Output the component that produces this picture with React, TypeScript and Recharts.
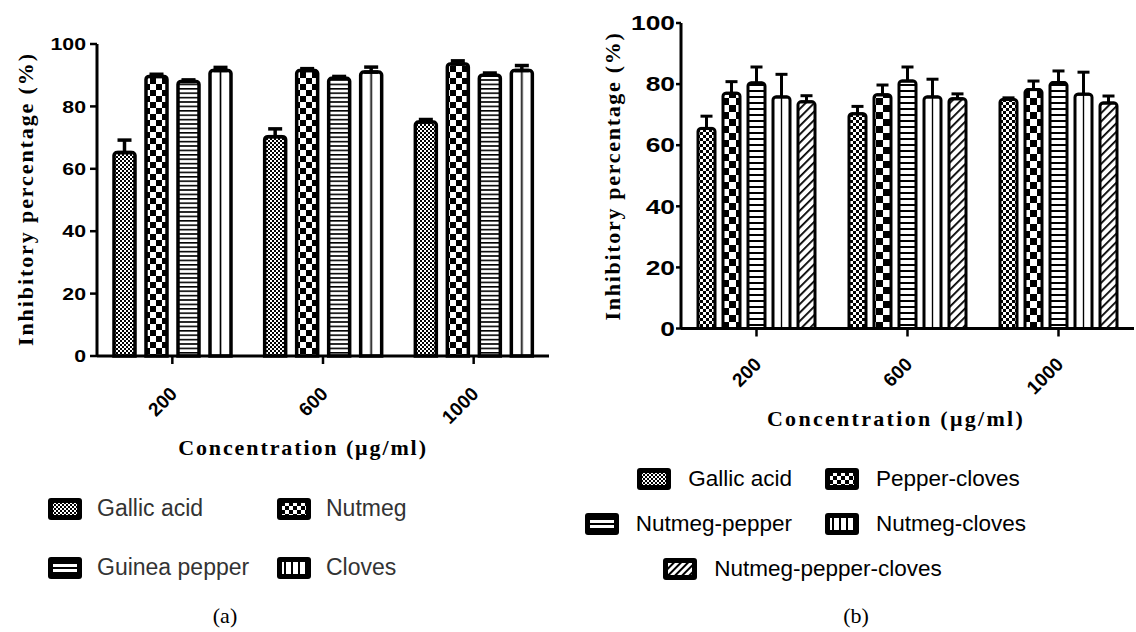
import { BarChart, Bar, XAxis, YAxis, ErrorBar, Legend } from 'recharts';

const CONCENTRATIONS = ['200', '600', '1000'];
const Y_TICKS = [0, 20, 40, 60, 80, 100];

// panel (a)
const SERIES_A = ['Gallic acid', 'Nutmeg', 'Guinea pepper', 'Cloves'];
const GALLIC_A = [65.2, 70.3, 75.0];
const GALLIC_A_ERR = [4.0, 2.5, 0.8];
const NUTMEG_A = [89.6, 91.5, 93.6];
const NUTMEG_A_ERR = [0.7, 0.6, 1.0];
const GUINEA_A = [88.0, 89.0, 90.0];
const GUINEA_A_ERR = [0.5, 0.6, 0.7];
const CLOVES_A = [91.5, 91.0, 91.5];
const CLOVES_A_ERR = [1.0, 1.6, 1.6];

// panel (b)
const SERIES_B = ['Gallic acid', 'Pepper-cloves', 'Nutmeg-pepper', 'Nutmeg-cloves', 'Nutmeg-pepper-cloves'];
const GALLIC_B = [65.5, 70.3, 75.0];
const GALLIC_B_ERR = [4.0, 2.4, 0.5];
const PEPPER_CLOVES_B = [77.0, 76.5, 78.2];
const PEPPER_CLOVES_B_ERR = [3.8, 3.2, 2.8];
const NUTMEG_PEPPER_B = [80.4, 81.0, 80.5];
const NUTMEG_PEPPER_B_ERR = [5.2, 4.6, 3.8];
const NUTMEG_CLOVES_B = [75.8, 75.8, 76.7];
const NUTMEG_CLOVES_B_ERR = [7.4, 5.8, 7.2];
const NPC_B = [74.2, 75.2, 73.8];
const NPC_B_ERR = [2.0, 1.6, 2.3];

const SANS = '"Liberation Sans", Arial, sans-serif';
const SERIF = '"Liberation Serif", "Times New Roman", serif';

function buildRows(values: number[][], errors: number[][]) {
  return CONCENTRATIONS.map((c, i) => {
    const row: any = { concentration: c };
    values.forEach((v, k) => {
      row['s' + k] = v[i];
      row['e' + k] = [0, errors[k][i]];
    });
    return row;
  });
}

const DATA_A = buildRows(
  [GALLIC_A, NUTMEG_A, GUINEA_A, CLOVES_A],
  [GALLIC_A_ERR, NUTMEG_A_ERR, GUINEA_A_ERR, CLOVES_A_ERR]
);
const DATA_B = buildRows(
  [GALLIC_B, PEPPER_CLOVES_B, NUTMEG_PEPPER_B, NUTMEG_CLOVES_B, NPC_B],
  [GALLIC_B_ERR, PEPPER_CLOVES_B_ERR, NUTMEG_PEPPER_B_ERR, NUTMEG_CLOVES_B_ERR, NPC_B_ERR]
);

const FILLS_A = ['fineA', 'checkA', 'hlineA', 'vline'];
const FILLS_B = ['fineB', 'checkB', 'hlineB', 'vline', 'diagB'];
const ICONS_A = ['iconFine', 'iconCheck', 'iconH', 'iconV'];
const ICONS_B = ['iconFine', 'iconCheck', 'iconH', 'iconV', 'iconDiag'];

function checker(id: string, size: number) {
  const h = size / 2;
  return (
    <pattern id={id} width={size} height={size} patternUnits="userSpaceOnUse">
      <rect width={size} height={size} fill="#fff" />
      <rect width={h} height={h} fill="#000" />
      <rect x={h} y={h} width={h} height={h} fill="#000" />
    </pattern>
  );
}

function hlines(id: string, gap: number, thick: number) {
  return (
    <pattern id={id} width={8} height={gap} patternUnits="userSpaceOnUse">
      <rect width={8} height={gap} fill="#fff" />
      <rect width={8} height={thick} fill="#000" />
    </pattern>
  );
}

function Patterns() {
  return (
    <svg width={0} height={0} style={{ position: 'absolute' }}>
      <defs>
        {checker('fineA', 4)}
        {checker('checkA', 12)}
        {hlines('hlineA', 4.4, 1.6)}
        {checker('fineB', 6)}
        {checker('checkB', 14)}
        {hlines('hlineB', 6, 2)}
        <pattern id="vline" width={1} height={1} patternUnits="objectBoundingBox" patternContentUnits="objectBoundingBox">
          <rect width={1} height={1} fill="#fff" />
          <rect x={0.46} width={0.08} height={1} fill="#000" />
        </pattern>
        <pattern id="diagB" width={6} height={6} patternUnits="userSpaceOnUse" patternTransform="rotate(45)">
          <rect width={6} height={6} fill="#fff" />
          <rect width={1.8} height={6} fill="#000" />
        </pattern>
        {checker('iconFine', 4)}
        {checker('iconCheck', 8)}
        <pattern id="iconH" width={8} height={5} patternUnits="userSpaceOnUse">
          <rect width={8} height={5} fill="#fff" />
          <rect width={8} height={2} fill="#000" />
        </pattern>
        <pattern id="iconV" width={7} height={8} patternUnits="userSpaceOnUse">
          <rect width={7} height={8} fill="#fff" />
          <rect width={2} height={8} fill="#000" />
        </pattern>
        <pattern id="iconDiag" width={5} height={5} patternUnits="userSpaceOnUse" patternTransform="rotate(45)">
          <rect width={5} height={5} fill="#fff" />
          <rect width={2} height={5} fill="#000" />
        </pattern>
      </defs>
    </svg>
  );
}

function LegendIcon({ fill }: { fill: string }) {
  return (
    <svg width={34} height={22} style={{ display: 'block', flex: 'none' }}>
      <rect x={0} y={0} width={34} height={22} rx={3} fill="#000" />
      <rect x={5} y={5} width={24} height={12} fill={`url(#${fill})`} />
    </svg>
  );
}

function LegendItem({ name, icon, color, gap, size }: { name: string; icon: string; color: string; gap: number; size: number }) {
  return (
    <div style={{ display: 'flex', alignItems: 'center', gap, fontFamily: SANS, fontSize: size, color, whiteSpace: 'nowrap' }}>
      <LegendIcon fill={icon} />
      <span>{name}</span>
    </div>
  );
}

const renderLegendA = () => (
  <div style={{ display: 'grid', gridTemplateColumns: '229px auto', rowGap: 32 }}>
    {SERIES_A.map((s, i) => (
      <LegendItem key={s} name={s} icon={ICONS_A[i]} color="#333" gap={15} size={23} />
    ))}
  </div>
);

const renderLegendB = () => (
  <div style={{ display: 'grid', gridTemplateColumns: '204px 220px', columnGap: 33, rowGap: 19 }}>
    {SERIES_B.map((s, i) => (
      <div
        key={s}
        style={{
          display: 'flex',
          justifyContent: i === 4 ? 'center' : i % 2 === 0 ? 'flex-end' : 'flex-start',
          gridColumn: i === 4 ? '1 / span 2' : undefined,
          paddingRight: i === 4 ? 28 : 0,
        }}
      >
        <LegendItem name={s} icon={ICONS_B[i]} color="#000" gap={17} size={22.5} />
      </div>
    ))}
  </div>
);

const XTick = ({ x, y, payload, fontSize, dy }: any) => {
  const px = x + 6;
  const py = y + dy;
  return (
    <text
      x={px}
      y={py}
      transform={`rotate(-45, ${px}, ${py})`}
      textAnchor="end"
      fontFamily={SANS}
      fontWeight="bold"
      fontSize={fontSize}
      fill="#000"
    >
      {payload.value}
    </text>
  );
};

const YTick = ({ x, y, payload, fontSize, sx }: any) => (
  <g transform={`translate(${x},${y})`}>
    <text
      transform={`scale(${sx},1)`}
      textAnchor="end"
      dy="0.36em"
      fontFamily={SANS}
      fontWeight="bold"
      fontSize={fontSize}
      fill="#000"
    >
      {payload.value}
    </text>
  </g>
);

const yTitle = (cx: number, cy: number, size: number, spacing: number) => () => (
  <text
    x={cx}
    y={cy}
    transform={`rotate(-90, ${cx}, ${cy})`}
    textAnchor="middle"
    dominantBaseline="central"
    fontFamily={SERIF}
    fontWeight="bold"
    fontSize={size}
    letterSpacing={spacing}
    fill="#000"
  >
    Inhibitory percentage (%)
  </text>
);

const xTitle = (cx: number, cy: number, size: number, spacing: number) => () => (
  <text
    x={cx}
    y={cy}
    textAnchor="middle"
    dominantBaseline="central"
    fontFamily={SERIF}
    fontWeight="bold"
    fontSize={size}
    letterSpacing={spacing}
    fill="#000"
  >
    Concentration (μg/ml)
  </text>
);

export default function App() {
  return (
    <div style={{ position: 'absolute', left: 0, top: 0, width: 1136, height: 632, background: '#fff', overflow: 'hidden' }}>
      <Patterns />

      <div style={{ position: 'absolute', left: 0, top: 0 }}>
        <BarChart
          width={560}
          height={632}
          data={DATA_A}
          margin={{ top: 44, right: 11, bottom: 236, left: 40 }}
          barSize={21}
          barGap={11}
        >
          <XAxis
            dataKey="concentration"
            height={40}
            interval={0}
            axisLine={{ stroke: '#000', strokeWidth: 3 }}
            tickLine={{ stroke: '#000', strokeWidth: 2.5 }}
            tickSize={8}
            tick={(p: any) => <XTick {...p} fontSize={19} dy={29} />}
            label={xTitle(303, 447, 22, 1.9)}
          />
          <YAxis
            width={57}
            domain={[0, 100]}
            ticks={Y_TICKS}
            interval={0}
            axisLine={{ stroke: '#000', strokeWidth: 3 }}
            tickLine={{ stroke: '#000', strokeWidth: 2.5 }}
            tickSize={7}
            tickMargin={4}
            tick={(p: any) => <YTick {...p} fontSize={17} sx={1.25} />}
            label={yTitle(25, 199, 22, 1.9)}
          />
          {SERIES_A.map((name, k) => (
            <Bar
              key={name}
              dataKey={'s' + k}
              name={name}
              fill={`url(#${FILLS_A[k]})`}
              stroke="#000"
              strokeWidth={3.5}
              radius={[3, 3, 0, 0]}
              isAnimationActive={false}
            >
              <ErrorBar dataKey={'e' + k} width={7} stroke="#000" strokeWidth={3.5} direction="y" />
            </Bar>
          ))}
          <Legend
            layout="vertical"
            align="center"
            verticalAlign="middle"
            content={renderLegendA}
            wrapperStyle={{ left: 48, top: 495, width: 420 }}
          />
        </BarChart>
      </div>

      <div style={{ position: 'absolute', left: 568, top: 0 }}>
        <BarChart
          width={568}
          height={632}
          data={DATA_B}
          margin={{ top: 23, right: 2, bottom: 263.5, left: 53 }}
          barSize={17}
          barGap={8}
        >
          <XAxis
            dataKey="concentration"
            height={40}
            interval={0}
            axisLine={{ stroke: '#000', strokeWidth: 3 }}
            tickLine={{ stroke: '#000', strokeWidth: 2.5 }}
            tickSize={8}
            tick={(p: any) => <XTick {...p} fontSize={19} dy={27} />}
            label={xTitle(896 - 568, 418, 22, 2.3)}
          />
          <YAxis
            width={60}
            domain={[0, 100]}
            ticks={Y_TICKS}
            interval={0}
            axisLine={{ stroke: '#000', strokeWidth: 3 }}
            tickLine={{ stroke: '#000', strokeWidth: 2.5 }}
            tickSize={5}
            tickMargin={1}
            tick={(p: any) => <YTick {...p} fontSize={20} sx={1.32} />}
            label={yTitle(612 - 568, 176, 22, 1.7)}
          />
          {SERIES_B.map((name, k) => (
            <Bar
              key={name}
              dataKey={'s' + k}
              name={name}
              fill={`url(#${FILLS_B[k]})`}
              stroke="#000"
              strokeWidth={3}
              radius={[3, 3, 0, 0]}
              isAnimationActive={false}
            >
              <ErrorBar dataKey={'e' + k} width={6} stroke="#000" strokeWidth={3} direction="y" />
            </Bar>
          ))}
          <Legend
            layout="vertical"
            align="center"
            verticalAlign="middle"
            content={renderLegendB}
            wrapperStyle={{ left: 20, top: 466, width: 480 }}
          />
        </BarChart>
      </div>

      <div style={{ position: 'absolute', left: 225, top: 616, transform: 'translate(-50%, -50%)', fontFamily: SERIF, fontSize: 22 }}>(a)</div>
      <div style={{ position: 'absolute', left: 856, top: 616, transform: 'translate(-50%, -50%)', fontFamily: SERIF, fontSize: 22 }}>(b)</div>
    </div>
  );
}
